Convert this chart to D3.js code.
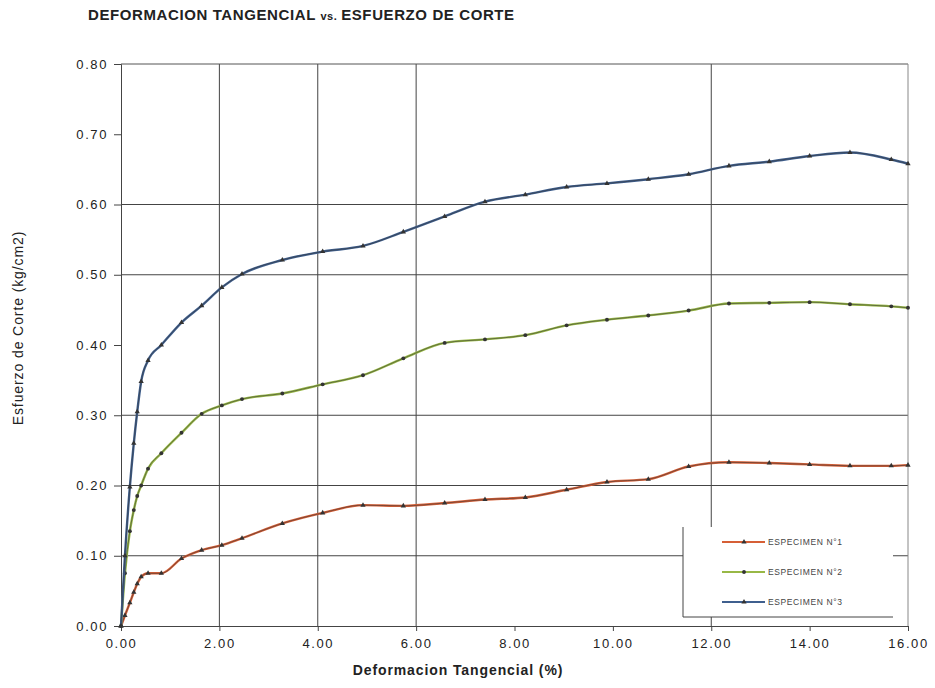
<!DOCTYPE html>
<html>
<head>
<meta charset="utf-8">
<script src="https://cdn.jsdelivr.net/npm/d3@7"></script>
<style>
  body { margin: 0; background: #fff; }
  svg { font-family: "Liberation Sans", Arial, sans-serif; }
</style>
</head>
<body>
<div id="chart"></div>
<script>
// Deformation (%) at each reading, shared by the three specimens
const deformacion = [0, 0.08, 0.18, 0.26, 0.33, 0.41, 0.55, 0.82, 1.23, 1.64, 2.05, 2.46, 3.28, 4.10, 4.92,
  5.74, 6.58, 7.40, 8.22, 9.06, 9.88, 10.72, 11.54, 12.36, 13.18, 14.00, 14.82, 15.66, 16.00];

// Shear stress (kg/cm2) for each specimen
const especimen1 = [0, 0.015, 0.033, 0.048, 0.060, 0.070, 0.075, 0.075, 0.096, 0.108, 0.115, 0.125, 0.146, 0.161, 0.172,
  0.171, 0.175, 0.180, 0.183, 0.194, 0.205, 0.209, 0.227, 0.233, 0.232, 0.230, 0.228, 0.228, 0.229];
const especimen2 = [0, 0.075, 0.135, 0.165, 0.185, 0.200, 0.224, 0.246, 0.275, 0.302, 0.314, 0.323, 0.331, 0.344, 0.357,
  0.381, 0.403, 0.408, 0.414, 0.428, 0.436, 0.442, 0.449, 0.459, 0.460, 0.461, 0.458, 0.455, 0.453];
const especimen3 = [0, 0.100, 0.198, 0.260, 0.305, 0.348, 0.378, 0.400, 0.432, 0.456, 0.482, 0.501, 0.521, 0.533, 0.541,
  0.561, 0.583, 0.604, 0.614, 0.625, 0.630, 0.636, 0.643, 0.655, 0.661, 0.669, 0.674, 0.664, 0.658];

const seriesNames = ["ESPECIMEN N°1", "ESPECIMEN N°2", "ESPECIMEN N°3"];

// Axis ticks and grid lines (as they appear on the sheet)
const xTicks = [0, 2, 4, 6, 8, 10, 12, 14, 16];
const yTicks = [0, 0.1, 0.2, 0.3, 0.4, 0.5, 0.6, 0.7, 0.8];
const xGrid = [2, 4, 6, 12];
const yGrid = [0.1, 0.2, 0.3, 0.5, 0.6];

const W = 935, H = 688;
const plot = { left: 121, right: 908, top: 64, bottom: 626 };

const svg = d3.select("#chart").append("svg")
  .attr("width", W)
  .attr("height", H);

const x = d3.scaleLinear().domain([0, 16]).range([plot.left, plot.right]);
const y = d3.scaleLinear().domain([0, 0.8]).range([plot.bottom, plot.top]);

const colors = ["#d65f36", "#98b846", "#3f5f8e"];
const markers = [d3.symbolTriangle, d3.symbolCircle, d3.symbolTriangle];

// Title
svg.append("text")
  .attr("x", 88)
  .attr("y", 20)
  .style("font-size", "15px")
  .style("font-weight", "bold")
  .style("letter-spacing", "0.6px")
  .attr("fill", "#222")
  .call(t => {
    t.append("tspan").text("DEFORMACION TANGENCIAL ");
    t.append("tspan").style("font-size", "11px").text("vs. ");
    t.append("tspan").text("ESFUERZO DE CORTE");
  });

// Grid lines
svg.append("g").selectAll("line.gx")
  .data(xGrid)
  .enter().append("line")
  .attr("x1", d => x(d)).attr("x2", d => x(d))
  .attr("y1", plot.top).attr("y2", plot.bottom)
  .attr("stroke", "#444").attr("stroke-width", 1);

svg.append("g").selectAll("line.gy")
  .data(yGrid)
  .enter().append("line")
  .attr("x1", plot.left).attr("x2", plot.right)
  .attr("y1", d => y(d)).attr("y2", d => y(d))
  .attr("stroke", "#444").attr("stroke-width", 1);

// Frame: top and right borders
svg.append("line")
  .attr("x1", plot.left).attr("x2", plot.right)
  .attr("y1", plot.top).attr("y2", plot.top)
  .attr("stroke", "#555");
svg.append("line")
  .attr("x1", plot.right).attr("x2", plot.right)
  .attr("y1", plot.top).attr("y2", plot.bottom)
  .attr("stroke", "#888");

// Axes
const xAxis = svg.append("g")
  .attr("transform", `translate(0,${plot.bottom})`)
  .call(d3.axisBottom(x).tickValues(xTicks).tickFormat(d3.format(".2f")).tickSize(5).tickPadding(8));
const yAxis = svg.append("g")
  .attr("transform", `translate(${plot.left},0)`)
  .call(d3.axisLeft(y).tickValues(yTicks).tickFormat(d3.format(".2f")).tickSize(7).tickPadding(6));

[xAxis, yAxis].forEach(a => {
  a.select(".domain").attr("stroke", "#444");
  a.selectAll(".tick line").attr("stroke", "#444");
  a.selectAll(".tick text")
    .attr("fill", "#222")
    .style("font-size", "13px")
    .style("letter-spacing", "1.6px")
    .style("font-family", "'Liberation Sans', Arial, sans-serif");
});

// Axis titles
svg.append("text")
  .attr("text-anchor", "middle")
  .attr("x", 458)
  .attr("y", 675)
  .style("font-size", "14px")
  .style("font-weight", "bold")
  .style("letter-spacing", "0.9px")
  .attr("fill", "#222")
  .text("Deformacion Tangencial (%)");

svg.append("text")
  .attr("text-anchor", "middle")
  .attr("transform", "translate(23,328) rotate(-90)")
  .style("font-size", "14px")
  .style("letter-spacing", "0.9px")
  .attr("fill", "#222")
  .text("Esfuerzo de Corte (kg/cm2)");

// Lines
const allSeries = [especimen1, especimen2, especimen3];
const line = d3.line()
  .x(d => x(d[0]))
  .y(d => y(d[1]))
  .curve(d3.curveMonotoneX);

allSeries.forEach((vals, i) => {
  const pts = deformacion.map((d, j) => [d, vals[j]]);
  svg.append("path")
    .datum(pts)
    .attr("fill", "none")
    .attr("stroke", colors[i])
    .attr("stroke-width", 2.4)
    .attr("d", line);
  svg.append("path")
    .datum(pts)
    .attr("fill", "none")
    .attr("stroke", "#333")
    .attr("stroke-opacity", 0.55)
    .attr("stroke-width", 1)
    .attr("d", line);
  svg.append("g").selectAll("path")
    .data(pts)
    .enter().append("path")
    .attr("transform", d => `translate(${x(d[0])},${y(d[1])})`)
    .attr("d", d3.symbol().type(markers[i]).size(12))
    .attr("fill", "#333");
});

// Legend
const legend = { x: 683, y: 527, w: 210, h: 90 };
svg.append("rect")
  .attr("x", legend.x).attr("y", legend.y)
  .attr("width", legend.w).attr("height", legend.h)
  .attr("fill", "#fff");
svg.append("path")
  .attr("d", `M${legend.x},${legend.y}V${legend.y + legend.h}H${legend.x + legend.w}`)
  .attr("fill", "none")
  .attr("stroke", "#444");

seriesNames.forEach((name, i) => {
  const ly = 542 + i * 30;
  svg.append("line")
    .attr("x1", 722).attr("x2", 765)
    .attr("y1", ly).attr("y2", ly)
    .attr("stroke", colors[i]).attr("stroke-width", 2);
  svg.append("path")
    .attr("transform", `translate(744,${ly})`)
    .attr("d", d3.symbol().type(markers[i]).size(12))
    .attr("fill", "#333");
  svg.append("text")
    .attr("x", 768)
    .attr("y", ly + 3)
    .style("font-size", "8.5px")
    .style("letter-spacing", "0.6px")
    .attr("fill", "#444")
    .text(name);
});
</script>
</body>
</html>
